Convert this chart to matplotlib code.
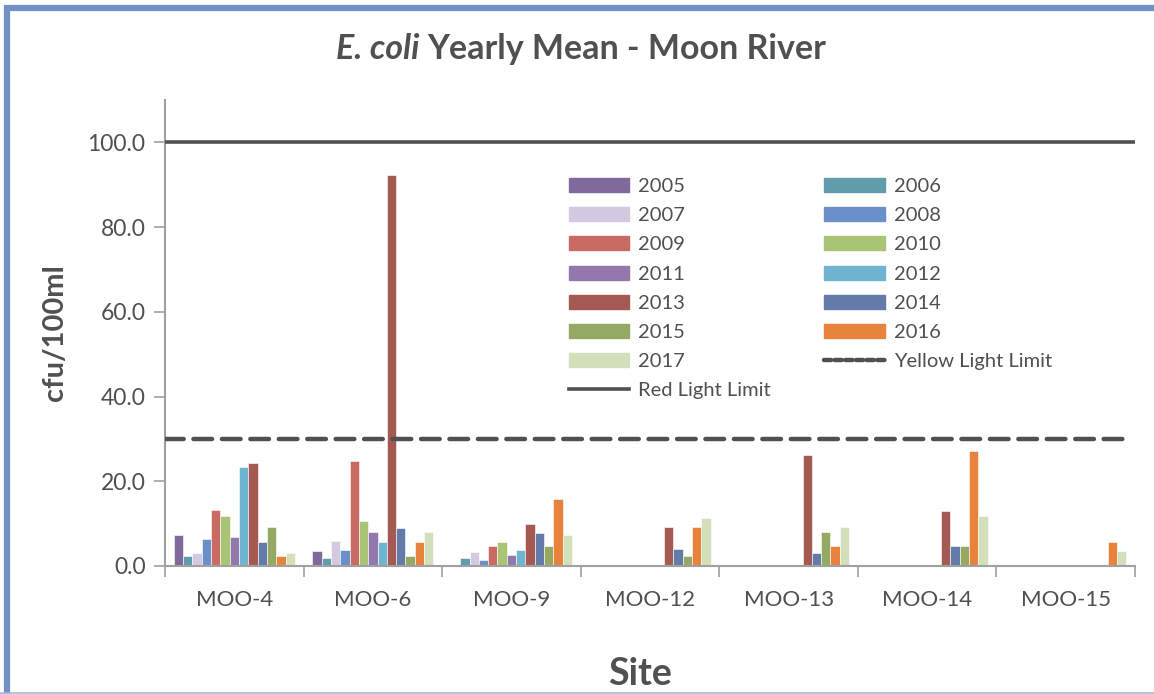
import numpy as np
import matplotlib
matplotlib.use('Agg')
import matplotlib.pyplot as plt
from matplotlib.lines import Line2D
from matplotlib.patches import Patch

plt.rcParams['font.family'] = ['Lato', 'DejaVu Sans']

sites = ['MOO-4', 'MOO-6', 'MOO-9', 'MOO-12', 'MOO-13', 'MOO-14', 'MOO-15']
years = ['2005', '2006', '2007', '2008', '2009', '2010', '2011',
         '2012', '2013', '2014', '2015', '2016', '2017']
n = np.nan
# yearly mean per site, one list per year (nan = no data)
y2005 = [7.3, 3.5, n, n, n, n, n]
y2006 = [2.3, 1.8, 1.9, n, n, n, n]
y2007 = [3.1, 6.0, 3.4, n, n, n, n]
y2008 = [6.4, 3.8, 1.3, n, n, n, n]
y2009 = [13.2, 24.7, 4.7, n, n, n, n]
y2010 = [11.8, 10.6, 5.6, n, n, n, n]
y2011 = [6.8, 8.1, 2.7, n, n, n, n]
y2012 = [23.4, 5.6, 3.8, n, n, n, n]
y2013 = [24.3, 92.2, 9.8, 9.3, 26.3, 13.1, n]
y2014 = [5.6, 8.9, 7.7, 3.9, 3.1, 4.7, n]
y2015 = [9.3, 2.3, 4.7, 2.3, 8.1, 4.7, n]
y2016 = [2.3, 5.6, 15.9, 9.3, 4.7, 27.2, 5.6]
y2017 = [3.1, 8.1, 7.3, 11.4, 9.3, 11.8, 3.5]
series = [y2005, y2006, y2007, y2008, y2009, y2010, y2011,
          y2012, y2013, y2014, y2015, y2016, y2017]
colors = ['#80699b', '#619cad', '#d3cae2', '#6b90c8', '#c96b62', '#aac475',
          '#9378ae', '#6fb5cf', '#a45a52', '#647baa', '#93a964', '#e8833e',
          '#d3dfbb']
yellow_limit = 30
red_limit = 100

txt = '#505050'
fig = plt.figure(figsize=(11.54, 6.94), dpi=100)
ax = fig.add_axes([165/1154, (694-566)/694, (1135-165)/1154, 466/694])

x = np.arange(len(sites))
w = 1/(13 + 1.88)
for j, (vals, c) in enumerate(zip(series, colors)):
    ax.bar(x + (j - 6)*w, vals, w, color=c, edgecolor='white', linewidth=0.4)

ax.set_xlim(-0.5, 6.5)
ax.set_ylim(0, 110)
ax.axhline(red_limit, color='#505050', lw=2.6, zorder=3)
ax.plot([-0.5, 6.47], [yellow_limit]*2, color='#505050', lw=3.2,
        dashes=(4.2, 2.2), dash_capstyle='round', zorder=3)

ax.set_yticks([0, 20, 40, 60, 80, 100])
ax.set_yticklabels(['%.1f' % v for v in [0, 20, 40, 60, 80, 100]])
ax.set_xticks(x)
ax.set_xticklabels(sites)
ax.set_xticks(np.arange(-0.5, 7, 1), minor=True)
ax.tick_params(axis='x', which='major', length=0, pad=17, labelsize=16, labelcolor=txt)
ax.tick_params(axis='x', which='minor', length=8, color='#a0a0a0', width=1.2)
ax.tick_params(axis='y', length=8, color='#a0a0a0', width=1.2, pad=6,
               labelsize=16.5, labelcolor=txt)
for s in ['top', 'right']:
    ax.spines[s].set_visible(False)
for s in ['left', 'bottom']:
    ax.spines[s].set_color('#a0a0a0')
    ax.spines[s].set_linewidth(1.5)

ax.set_ylabel('cfu/100ml', fontsize=21, fontweight='bold', color=txt, labelpad=14)
ax.set_xlabel('Site', fontsize=27, fontweight='bold', color=txt)
ax.xaxis.set_label_coords(0.49, -0.195)

# title: italic species name followed by regular bold text, centred as a whole
t1 = fig.text(0, 0.93, 'E. coli', ha='left', va='center', fontsize=24.5,
              fontweight='bold', style='italic', color=txt)
t2 = fig.text(0, 0.93, 'Yearly Mean - Moon River', ha='left', va='center',
              fontsize=24.5, fontweight='bold', color=txt)
fig.canvas.draw()
w1 = t1.get_window_extent().width
w2 = t2.get_window_extent().width
gap = 8
x0 = 581 - (w1 + gap + w2)/2
t1.set_x(x0/1154)
t2.set_x((x0 + w1 + gap)/1154)

handles = [Patch(color=c) for c in colors]
labels = list(years)
yl = Line2D([], [], color='#505050', lw=3.2, dashes=(1.6, 0.8), dash_capstyle='round')
rl = Line2D([], [], color='#505050', lw=2.6)
col1 = [0, 2, 4, 6, 8, 10, 12]
col2 = [1, 3, 5, 7, 9, 11]
h = [handles[i] for i in col1] + [rl] + [handles[i] for i in col2] + [yl]
l = [labels[i] for i in col1] + ['Red Light Limit'] + [labels[i] for i in col2] + ['Yellow Light Limit']
leg = fig.legend(h, l, loc='upper left', bbox_to_anchor=(569/1154, 1 - 178/694),
                 ncol=2, frameon=False, fontsize=14.5, handlelength=3.0,
                 handleheight=0.7, labelspacing=0.6, columnspacing=2.65,
                 handletextpad=0.45, borderaxespad=0, borderpad=0)
for t in leg.get_texts():
    t.set_color(txt)

# outer chart border
bc = '#7090c8'
fig.add_artist(Line2D([6.5/1154, 6.5/1154], [0, 1 - 5/694], color=bc, lw=4.5,
                      transform=fig.transFigure, solid_capstyle='butt'))
fig.add_artist(Line2D([4/1154, 1], [1 - 7.5/694, 1 - 7.5/694], color=bc, lw=4.5,
                      transform=fig.transFigure, solid_capstyle='butt'))
fig.add_artist(Line2D([0, 1], [1.5/694, 1.5/694], color='#a8b8e0', lw=1.2,
                      transform=fig.transFigure))

fig.savefig('out.png', dpi=100)
